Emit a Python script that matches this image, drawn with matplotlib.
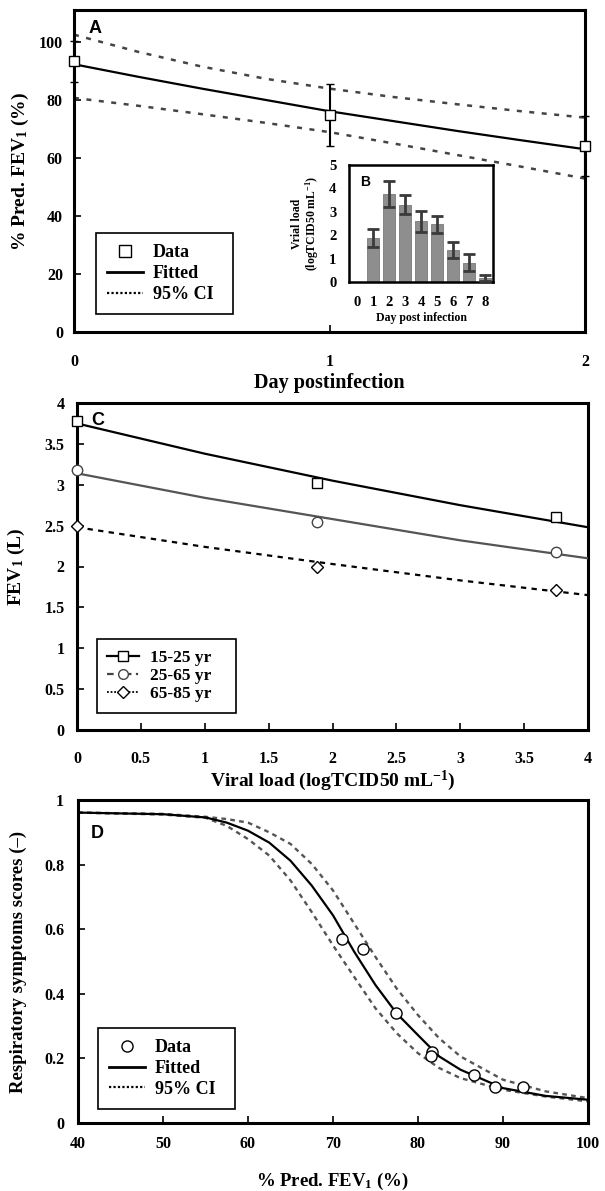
import matplotlib

matplotlib.use("Agg")
import matplotlib.pyplot as plt
from matplotlib.lines import Line2D
from matplotlib.ticker import FuncFormatter

plt.rcParams["font.family"] = ["Liberation Serif", "DejaVu Serif"]
plt.rcParams["font.weight"] = "bold"
plt.rcParams["mathtext.default"] = "regular"
plt.rcParams["axes.linewidth"] = 2.2

# --- A: % predicted FEV1 against day post infection
day_obs = [0, 1, 2]
fev_obs = [93.3, 74.8, 64.1]
fev_err = [7.0, 10.8, 10.2]
day_fit = [0, 0.25, 0.5, 0.75, 1, 1.25, 1.5, 1.75, 2]
fev_fit = [92.3, 88.0, 83.9, 80.0, 76.1, 72.7, 69.3, 66.1, 63.0]
fev_ci_hi = [102.5, 96.6, 91.5, 87.3, 83.9, 81.0, 78.5, 76.1, 73.9]
fev_ci_lo = [80.7, 78.0, 75.1, 72.1, 68.9, 65.0, 61.0, 57.0, 52.9]

# --- B (inset): viral load per day
inset_days = [0, 1, 2, 3, 4, 5, 6, 7, 8]
viral_load = [0.0, 1.89, 3.76, 3.31, 2.60, 2.47, 1.36, 0.83, 0.17]
viral_err = [0.0, 0.38, 0.56, 0.42, 0.45, 0.37, 0.34, 0.38, 0.13]

# --- C: FEV1 against viral load by age group
vl_obs = [0, 1.877, 3.75]
fev_15_25 = [3.78, 3.02, 2.60]
fev_25_65 = [3.18, 2.54, 2.18]
fev_65_85 = [2.49, 2.00, 1.71]
vl_fit = [0, 1, 2, 3, 4]
fit_15_25 = [3.75, 3.38, 3.05, 2.75, 2.48]
fit_25_65 = [3.14, 2.84, 2.58, 2.32, 2.10]
fit_65_85 = [2.48, 2.24, 2.03, 1.83, 1.65]
age_groups = ["15-25 yr", "25-65 yr", "65-85 yr"]

# --- D: symptom score against % predicted FEV1
pfev_obs = [71.1, 73.5, 77.4, 81.6, 81.5, 86.6, 89.1, 92.3]
score_obs = [0.570, 0.540, 0.341, 0.219, 0.206, 0.149, 0.111, 0.111]
pfev_fit = [40, 50, 55, 57.5, 60, 62.5, 65, 67.5, 70, 72.5, 75, 77.5, 80,
            82.5, 85, 90, 95, 100]
score_fit = [0.961, 0.956, 0.946, 0.930, 0.905, 0.868, 0.812, 0.735, 0.643,
             0.530, 0.427, 0.339, 0.272, 0.206, 0.165, 0.108, 0.084, 0.072]
score_ci_hi = [0.961, 0.957, 0.948, 0.941, 0.930, 0.900, 0.864, 0.802, 0.720,
               0.617, 0.514, 0.416, 0.334, 0.262, 0.206, 0.134, 0.098, 0.077]
score_ci_lo = [0.961, 0.955, 0.945, 0.920, 0.879, 0.828, 0.751, 0.653, 0.550,
               0.452, 0.355, 0.278, 0.216, 0.170, 0.139, 0.103, 0.082, 0.067]

W, H = 605, 1191


def box(left, top, right, bottom):
    """Axes rectangle from pixel edges (origin top-left)."""
    return [left / W, 1 - bottom / H, (right - left) / W, (bottom - top) / H]


def style_axes(ax, xpad, ypad, size=11.5):
    ax.tick_params(direction="in", length=5, width=1.2, labelsize=size,
                   top=False, right=False)
    ax.tick_params(axis="x", pad=xpad)
    ax.tick_params(axis="y", pad=ypad)
    ax.yaxis.set_major_formatter(FuncFormatter(lambda v, p: "%g" % v))
    ax.xaxis.set_major_formatter(FuncFormatter(lambda v, p: "%g" % v))


def panel_letter(ax, x, y, s, size=13):
    ax.text(x, y, s, transform=ax.transAxes, ha="center", va="center",
            fontsize=size, fontweight="bold", family="Liberation Sans")


def boxed_legend(ax, handles, labels, anchor, size, **kw):
    leg = ax.legend(handles, labels, loc="upper left", bbox_to_anchor=anchor,
                    mode="expand", borderaxespad=0,
                    prop={"size": size, "weight": "bold"}, frameon=True,
                    fancybox=False, edgecolor="black", framealpha=1, **kw)
    leg.get_frame().set_linewidth(1.2)
    return leg


fig = plt.figure(figsize=(W / 100, H / 100), dpi=100)

# ---------------- A
ax = fig.add_axes(box(74, 10, 585, 332))
ax.plot(day_fit, fev_fit, color="black", lw=1.6, zorder=3)
for ci in (fev_ci_hi, fev_ci_lo):
    ax.plot(day_fit, ci, color="#444444", lw=1.8, ls=(0, (2, 3)), zorder=2)
ax.errorbar(day_obs, fev_obs, yerr=fev_err, fmt="s", ms=7, mfc="white",
            mec="black", mew=1.0, ecolor="black", elinewidth=1.5, capsize=3,
            capthick=1.5, clip_on=False, zorder=5)
ax.set_xlim(0, 2)
ax.set_ylim(0, 111)
ax.set_xticks([0, 1, 2])
ax.set_yticks(range(0, 101, 20))
style_axes(ax, xpad=16, ypad=8)
ax.set_xlabel("Day postinfection", fontsize=14.5, fontweight="bold")
ax.xaxis.set_label_coords(0.5, -0.128)
ax.set_ylabel("% Pred. FEV$_1$ (%)", fontsize=14, fontweight="bold")
ax.yaxis.set_label_coords(-0.085, 0.5)
panel_letter(ax, 0.041, 0.944, "A")
handles = [
    Line2D([], [], ls="none", marker="s", ms=8, mfc="white", mec="black",
           mew=1.0),
    Line2D([], [], color="black", lw=2.0),
    Line2D([], [], color="black", lw=1.6, ls=(0, (1, 1))),
]
boxed_legend(ax, handles, ["Data", "Fitted", "95% CI"],
             (0.043, 0.059, 0.268, 0.248), 13, handlelength=2.0,
             handletextpad=0.55, labelspacing=0.22, borderpad=0.6)

# ---------------- B (inset)
axb = fig.add_axes(box(349, 165, 493, 282))
axb.set_facecolor("white")
axb.bar(inset_days, viral_load, width=0.76, color="#8e8e8e",
        edgecolor="#7a7a7a", lw=0.6, zorder=2)
axb.errorbar(inset_days[1:], viral_load[1:], yerr=viral_err[1:], fmt="none",
             ecolor="#3a3a3a", elinewidth=2.0, capsize=4, capthick=2.0,
             zorder=3)
axb.set_xlim(-0.5, 8.5)
axb.set_ylim(0, 5)
axb.set_xticks(inset_days)
axb.set_yticks(range(0, 6))
for s in axb.spines.values():
    s.set_linewidth(1.8)
axb.tick_params(length=0, labelsize=10.5)
axb.tick_params(axis="x", pad=10)
axb.tick_params(axis="y", pad=9)
axb.set_xlabel("Day post infection", fontsize=8.5, fontweight="bold",
               labelpad=2)
axb.set_ylabel("Vrial load\n(logTCID50 mL$^{-1}$)", fontsize=8.5,
               fontweight="bold", linespacing=1.0, labelpad=6)
panel_letter(axb, 0.11, 0.855, "B", size=10)

# ---------------- C
axc = fig.add_axes(box(77, 403, 588, 730))
axc.plot(vl_fit, fit_15_25, color="black", lw=1.6, zorder=3)
axc.plot(vl_fit, fit_25_65, color="#555555", lw=1.6, zorder=3)
axc.plot(vl_fit, fit_65_85, color="black", lw=1.6, ls=(0, (2.4, 2.4)),
         zorder=3)
axc.plot(vl_obs, fev_15_25, ls="none", marker="s", ms=7.5, mfc="white",
         mec="black", mew=1.0, clip_on=False, zorder=5)
axc.plot(vl_obs, fev_25_65, ls="none", marker="o", ms=7.5, mfc="white",
         mec="#444444", mew=1.0, clip_on=False, zorder=5)
axc.plot(vl_obs, fev_65_85, ls="none", marker="D", ms=6, mfc="white",
         mec="black", mew=1.0, clip_on=False, zorder=5)
axc.set_xlim(0, 4)
axc.set_ylim(0, 4)
axc.set_xticks([i * 0.5 for i in range(9)])
axc.set_yticks([i * 0.5 for i in range(9)])
style_axes(axc, xpad=15, ypad=9)
axc.set_xlabel("Viral load (logTCID50 mL$^{-1}$)", fontsize=14,
               fontweight="bold")
axc.xaxis.set_label_coords(0.5, -0.118)
axc.set_ylabel("FEV$_1$ (L)", fontsize=14, fontweight="bold")
axc.yaxis.set_label_coords(-0.098, 0.5)
panel_letter(axc, 0.041, 0.945, "C")
handles = [
    Line2D([], [], color="black", lw=1.6, marker="s", ms=7, mfc="white",
           mec="black"),
    Line2D([], [], color="#444444", lw=1.6, ls=(0, (3, 2, 1, 2)), marker="o",
           ms=7, mfc="white", mec="#444444"),
    Line2D([], [], color="black", lw=1.3, ls=(0, (1, 1)), marker="D", ms=6,
           mfc="white", mec="black"),
]
boxed_legend(axc, handles, age_groups, (0.039, 0.043, 0.272, 0.235), 12.5,
             handlelength=1.85, handletextpad=0.6, labelspacing=0.12,
             borderpad=0.6)

# ---------------- D
axd = fig.add_axes(box(78, 800, 588, 1123))
axd.plot(pfev_fit, score_fit, color="black", lw=1.6, zorder=3)
for ci in (score_ci_hi, score_ci_lo):
    axd.plot(pfev_fit, ci, color="#555555", lw=1.7, ls=(0, (2.0, 1.8)),
             zorder=2)
axd.plot(pfev_obs, score_obs, ls="none", marker="o", ms=8, mfc="white",
         mec="black", mew=1.0, zorder=5)
axd.set_xlim(40, 100)
axd.set_ylim(0, 1)
axd.set_xticks(range(40, 101, 10))
axd.set_yticks([0, 0.2, 0.4, 0.6, 0.8, 1.0])
style_axes(axd, xpad=9, ypad=10)
axd.set_xlabel("% Pred. FEV$_1$ (%)", fontsize=13.5, fontweight="bold")
axd.xaxis.set_label_coords(0.5, -0.148)
axd.set_ylabel("Respiratory symptoms scores (\u2013)", fontsize=13.5,
               fontweight="bold")
axd.yaxis.set_label_coords(-0.1, 0.5)
panel_letter(axd, 0.037, 0.895, "D")
handles = [
    Line2D([], [], ls="none", marker="o", ms=8, mfc="white", mec="black",
           mew=1.0),
    Line2D([], [], color="black", lw=2.0),
    Line2D([], [], color="black", lw=1.6, ls=(0, (1, 1))),
]
boxed_legend(axd, handles, ["Data", "Fitted", "95% CI"],
             (0.039, 0.053, 0.269, 0.241), 13, handlelength=2.0,
             handletextpad=0.55, labelspacing=0.22, borderpad=0.6)

fig.savefig("out.png", dpi=100)
